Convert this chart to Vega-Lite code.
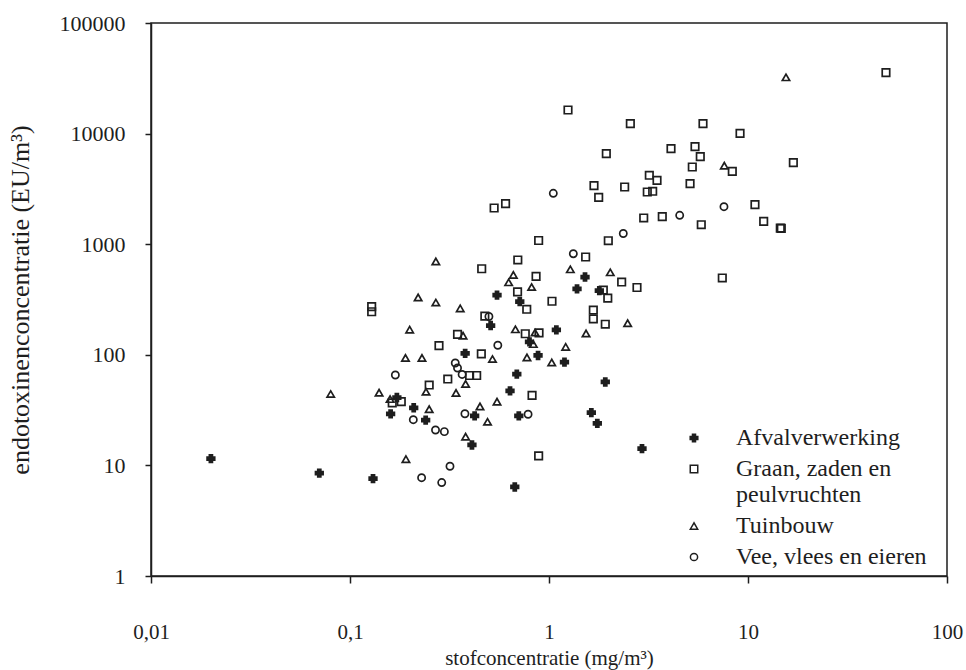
{
  "$schema": "https://vega.github.io/schema/vega-lite/v6.json",
  "width": 796,
  "height": 553,
  "autosize": {"type": "none"},
  "padding": {"left": 151, "top": 23, "right": 19, "bottom": 94},
  "background": "white",
  "config": {
    "font": "Liberation Serif",
    "view": {"stroke": "#1e1e1e", "strokeWidth": 1.5},
    "axis": {
      "grid": false,
      "domainColor": "#1e1e1e",
      "domainWidth": 1.5,
      "tickColor": "#1e1e1e",
      "tickWidth": 1.5,
      "labelColor": "#1e1e1e",
      "titleColor": "#1e1e1e",
      "labelFont": "Liberation Serif",
      "titleFont": "Liberation Serif",
      "labelFontSize": 21,
      "titleFontSize": 21,
      "titleFontWeight": "normal"
    },
    "legend": {
      "labelFont": "Liberation Serif",
      "labelFontSize": 24,
      "labelColor": "#1e1e1e",
      "labelLimit": 0
    }
  },
  "data": {
    "values": [
      {"x": 0.0200, "y": 11.5, "c": "Afvalverwerking"},
      {"x": 0.0701, "y": 8.53, "c": "Afvalverwerking"},
      {"x": 0.1305, "y": 7.58, "c": "Afvalverwerking"},
      {"x": 0.160, "y": 29.2, "c": "Afvalverwerking"},
      {"x": 0.172, "y": 41.1, "c": "Afvalverwerking"},
      {"x": 0.209, "y": 33.2, "c": "Afvalverwerking"},
      {"x": 0.240, "y": 25.7, "c": "Afvalverwerking"},
      {"x": 0.379, "y": 103, "c": "Afvalverwerking"},
      {"x": 0.410, "y": 15.3, "c": "Afvalverwerking"},
      {"x": 0.423, "y": 28.0, "c": "Afvalverwerking"},
      {"x": 0.509, "y": 184, "c": "Afvalverwerking"},
      {"x": 0.548, "y": 347, "c": "Afvalverwerking"},
      {"x": 0.637, "y": 47.1, "c": "Afvalverwerking"},
      {"x": 0.673, "y": 6.38, "c": "Afvalverwerking"},
      {"x": 0.689, "y": 67.0, "c": "Afvalverwerking"},
      {"x": 0.705, "y": 28.0, "c": "Afvalverwerking"},
      {"x": 0.713, "y": 302, "c": "Afvalverwerking"},
      {"x": 0.798, "y": 131, "c": "Afvalverwerking"},
      {"x": 0.881, "y": 98.6, "c": "Afvalverwerking"},
      {"x": 1.089, "y": 168, "c": "Afvalverwerking"},
      {"x": 1.196, "y": 85.7, "c": "Afvalverwerking"},
      {"x": 1.383, "y": 394, "c": "Afvalverwerking"},
      {"x": 1.517, "y": 505, "c": "Afvalverwerking"},
      {"x": 1.790, "y": 380, "c": "Afvalverwerking"},
      {"x": 1.918, "y": 56.8, "c": "Afvalverwerking"},
      {"x": 1.632, "y": 30.0, "c": "Afvalverwerking"},
      {"x": 1.749, "y": 24.0, "c": "Afvalverwerking"},
      {"x": 2.933, "y": 14.2, "c": "Afvalverwerking"},

      {"x": 0.1285, "y": 273, "c": "Graan, zaden en peulvruchten"},
      {"x": 0.1285, "y": 245, "c": "Graan, zaden en peulvruchten"},
      {"x": 0.280, "y": 121, "c": "Graan, zaden en peulvruchten"},
      {"x": 0.310, "y": 60.4, "c": "Graan, zaden en peulvruchten"},
      {"x": 0.250, "y": 53.3, "c": "Graan, zaden en peulvruchten"},
      {"x": 0.181, "y": 37.7, "c": "Graan, zaden en peulvruchten"},
      {"x": 0.163, "y": 36.7, "c": "Graan, zaden en peulvruchten"},
      {"x": 0.347, "y": 153, "c": "Graan, zaden en peulvruchten"},
      {"x": 0.399, "y": 65.0, "c": "Graan, zaden en peulvruchten"},
      {"x": 0.433, "y": 65.0, "c": "Graan, zaden en peulvruchten"},
      {"x": 0.457, "y": 102, "c": "Graan, zaden en peulvruchten"},
      {"x": 0.476, "y": 224, "c": "Graan, zaden en peulvruchten"},
      {"x": 0.459, "y": 600, "c": "Graan, zaden en peulvruchten"},
      {"x": 0.530, "y": 2125, "c": "Graan, zaden en peulvruchten"},
      {"x": 0.605, "y": 2325, "c": "Graan, zaden en peulvruchten"},
      {"x": 0.697, "y": 720, "c": "Graan, zaden en peulvruchten"},
      {"x": 0.695, "y": 370, "c": "Graan, zaden en peulvruchten"},
      {"x": 0.773, "y": 258, "c": "Graan, zaden en peulvruchten"},
      {"x": 0.760, "y": 155, "c": "Graan, zaden en peulvruchten"},
      {"x": 0.822, "y": 42.9, "c": "Graan, zaden en peulvruchten"},
      {"x": 0.861, "y": 511, "c": "Graan, zaden en peulvruchten"},
      {"x": 0.891, "y": 158, "c": "Graan, zaden en peulvruchten"},
      {"x": 0.887, "y": 1080, "c": "Graan, zaden en peulvruchten"},
      {"x": 0.887, "y": 12.2, "c": "Graan, zaden en peulvruchten"},
      {"x": 1.035, "y": 305, "c": "Graan, zaden en peulvruchten"},
      {"x": 1.246, "y": 16350, "c": "Graan, zaden en peulvruchten"},
      {"x": 1.528, "y": 766, "c": "Graan, zaden en peulvruchten"},
      {"x": 1.670, "y": 254, "c": "Graan, zaden en peulvruchten"},
      {"x": 1.670, "y": 211, "c": "Graan, zaden en peulvruchten"},
      {"x": 1.777, "y": 2655, "c": "Graan, zaden en peulvruchten"},
      {"x": 1.683, "y": 3380, "c": "Graan, zaden en peulvruchten"},
      {"x": 1.875, "y": 385, "c": "Graan, zaden en peulvruchten"},
      {"x": 1.941, "y": 6580, "c": "Graan, zaden en peulvruchten"},
      {"x": 1.918, "y": 189, "c": "Graan, zaden en peulvruchten"},
      {"x": 1.974, "y": 326, "c": "Graan, zaden en peulvruchten"},
      {"x": 1.986, "y": 1075, "c": "Graan, zaden en peulvruchten"},
      {"x": 2.318, "y": 455, "c": "Graan, zaden en peulvruchten"},
      {"x": 2.400, "y": 3290, "c": "Graan, zaden en peulvruchten"},
      {"x": 2.563, "y": 12290, "c": "Graan, zaden en peulvruchten"},
      {"x": 2.768, "y": 406, "c": "Graan, zaden en peulvruchten"},
      {"x": 2.992, "y": 1726, "c": "Graan, zaden en peulvruchten"},
      {"x": 3.118, "y": 2965, "c": "Graan, zaden en peulvruchten"},
      {"x": 3.319, "y": 3010, "c": "Graan, zaden en peulvruchten"},
      {"x": 3.192, "y": 4200, "c": "Graan, zaden en peulvruchten"},
      {"x": 3.490, "y": 3782, "c": "Graan, zaden en peulvruchten"},
      {"x": 3.709, "y": 1773, "c": "Graan, zaden en peulvruchten"},
      {"x": 4.103, "y": 7300, "c": "Graan, zaden en peulvruchten"},
      {"x": 5.115, "y": 3523, "c": "Graan, zaden en peulvruchten"},
      {"x": 5.249, "y": 4990, "c": "Graan, zaden en peulvruchten"},
      {"x": 5.417, "y": 7615, "c": "Graan, zaden en peulvruchten"},
      {"x": 5.757, "y": 6180, "c": "Graan, zaden en peulvruchten"},
      {"x": 5.824, "y": 1500, "c": "Graan, zaden en peulvruchten"},
      {"x": 5.941, "y": 12290, "c": "Graan, zaden en peulvruchten"},
      {"x": 7.427, "y": 495, "c": "Graan, zaden en peulvruchten"},
      {"x": 8.339, "y": 4562, "c": "Graan, zaden en peulvruchten"},
      {"x": 9.120, "y": 10060, "c": "Graan, zaden en peulvruchten"},
      {"x": 10.84, "y": 2276, "c": "Graan, zaden en peulvruchten"},
      {"x": 11.99, "y": 1611, "c": "Graan, zaden en peulvruchten"},
      {"x": 14.53, "y": 1400, "c": "Graan, zaden en peulvruchten"},
      {"x": 14.70, "y": 1390, "c": "Graan, zaden en peulvruchten"},
      {"x": 16.90, "y": 5455, "c": "Graan, zaden en peulvruchten"},
      {"x": 49.35, "y": 35540, "c": "Graan, zaden en peulvruchten"},

      {"x": 0.0800, "y": 44.2, "c": "Tuinbouw"},
      {"x": 0.140, "y": 45.4, "c": "Tuinbouw"},
      {"x": 0.159, "y": 39.8, "c": "Tuinbouw"},
      {"x": 0.190, "y": 93.6, "c": "Tuinbouw"},
      {"x": 0.191, "y": 11.4, "c": "Tuinbouw"},
      {"x": 0.1995, "y": 169, "c": "Tuinbouw"},
      {"x": 0.220, "y": 330, "c": "Tuinbouw"},
      {"x": 0.230, "y": 93.6, "c": "Tuinbouw"},
      {"x": 0.241, "y": 46.3, "c": "Tuinbouw"},
      {"x": 0.250, "y": 32.2, "c": "Tuinbouw"},
      {"x": 0.270, "y": 698, "c": "Tuinbouw"},
      {"x": 0.270, "y": 297, "c": "Tuinbouw"},
      {"x": 0.341, "y": 45.2, "c": "Tuinbouw"},
      {"x": 0.358, "y": 263, "c": "Tuinbouw"},
      {"x": 0.370, "y": 149, "c": "Tuinbouw"},
      {"x": 0.381, "y": 54.5, "c": "Tuinbouw"},
      {"x": 0.381, "y": 18.2, "c": "Tuinbouw"},
      {"x": 0.450, "y": 34.1, "c": "Tuinbouw"},
      {"x": 0.491, "y": 24.8, "c": "Tuinbouw"},
      {"x": 0.520, "y": 91.6, "c": "Tuinbouw"},
      {"x": 0.548, "y": 37.7, "c": "Tuinbouw"},
      {"x": 0.627, "y": 452, "c": "Tuinbouw"},
      {"x": 0.662, "y": 527, "c": "Tuinbouw"},
      {"x": 0.678, "y": 170, "c": "Tuinbouw"},
      {"x": 0.775, "y": 94.6, "c": "Tuinbouw"},
      {"x": 0.818, "y": 410, "c": "Tuinbouw"},
      {"x": 0.834, "y": 125, "c": "Tuinbouw"},
      {"x": 0.851, "y": 159, "c": "Tuinbouw"},
      {"x": 1.032, "y": 85.2, "c": "Tuinbouw"},
      {"x": 1.213, "y": 118, "c": "Tuinbouw"},
      {"x": 1.280, "y": 593, "c": "Tuinbouw"},
      {"x": 1.535, "y": 156, "c": "Tuinbouw"},
      {"x": 2.032, "y": 557, "c": "Tuinbouw"},
      {"x": 2.485, "y": 193, "c": "Tuinbouw"},
      {"x": 7.602, "y": 5125, "c": "Tuinbouw"},
      {"x": 15.52, "y": 32290, "c": "Tuinbouw"},

      {"x": 0.169, "y": 65.7, "c": "Vee, vlees en eieren"},
      {"x": 0.208, "y": 25.9, "c": "Vee, vlees en eieren"},
      {"x": 0.229, "y": 7.74, "c": "Vee, vlees en eieren"},
      {"x": 0.269, "y": 20.9, "c": "Vee, vlees en eieren"},
      {"x": 0.298, "y": 20.2, "c": "Vee, vlees en eieren"},
      {"x": 0.289, "y": 7.00, "c": "Vee, vlees en eieren"},
      {"x": 0.318, "y": 9.82, "c": "Vee, vlees en eieren"},
      {"x": 0.338, "y": 84.3, "c": "Vee, vlees en eieren"},
      {"x": 0.347, "y": 76.0, "c": "Vee, vlees en eieren"},
      {"x": 0.366, "y": 66.4, "c": "Vee, vlees en eieren"},
      {"x": 0.378, "y": 29.3, "c": "Vee, vlees en eieren"},
      {"x": 0.499, "y": 222, "c": "Vee, vlees en eieren"},
      {"x": 0.553, "y": 122, "c": "Vee, vlees en eieren"},
      {"x": 0.785, "y": 29.0, "c": "Vee, vlees en eieren"},
      {"x": 1.051, "y": 2886, "c": "Vee, vlees en eieren"},
      {"x": 1.325, "y": 820, "c": "Vee, vlees en eieren"},
      {"x": 2.362, "y": 1250, "c": "Vee, vlees en eieren"},
      {"x": 4.537, "y": 1825, "c": "Vee, vlees en eieren"},
      {"x": 7.572, "y": 2183, "c": "Vee, vlees en eieren"}
    ]
  },
  "mark": {"type": "point", "color": "#1e1e1e", "strokeWidth": 1.7, "opacity": 1},
  "encoding": {
    "x": {
      "field": "x",
      "type": "quantitative",
      "scale": {"type": "log", "domain": [0.01, 100], "nice": false},
      "axis": {
        "title": "stofconcentratie (mg/m³)",
        "values": [0.01, 0.1, 1, 10, 100],
        "labelExpr": "replace(toString(datum.value), '.', ',')",
        "tickSize": 7,
        "labelPadding": 38,
        "titlePadding": 5,
        "labelFlush": false,
        "labelOverlap": false
      }
    },
    "y": {
      "field": "y",
      "type": "quantitative",
      "scale": {"type": "log", "domain": [1, 100000], "nice": false},
      "axis": {
        "title": "endotoxinenconcentratie (EU/m³)",
        "values": [1, 10, 100, 1000, 10000, 100000],
        "format": "d",
        "tickSize": 6,
        "labelPadding": 20,
        "labelFontSize": 22,
        "titleFontSize": 26,
        "titlePadding": 26,
        "labelFlush": false,
        "labelOverlap": false
      }
    },
    "shape": {
      "field": "c",
      "type": "nominal",
      "scale": {
        "domain": ["Afvalverwerking", "Graan, zaden en peulvruchten", "Tuinbouw", "Vee, vlees en eieren"],
        "range": ["cross", "square", "triangle-up", "circle"]
      },
      "legend": {
        "title": null,
        "orient": "none",
        "legendX": 531,
        "legendY": 403,
        "padding": 0,
        "rowPadding": 7,
        "labelOffset": 30,
        "labelExpr": "datum.label == 'Graan, zaden en peulvruchten' ? ['Graan, zaden en', 'peulvruchten'] : datum.label"
      }
    },
    "fill": {
      "field": "c",
      "type": "nominal",
      "scale": {
        "domain": ["Afvalverwerking", "Graan, zaden en peulvruchten", "Tuinbouw", "Vee, vlees en eieren"],
        "range": ["#1e1e1e", "transparent", "transparent", "transparent"]
      }
    },
    "size": {
      "field": "c",
      "type": "nominal",
      "scale": {
        "domain": ["Afvalverwerking", "Graan, zaden en peulvruchten", "Tuinbouw", "Vee, vlees en eieren"],
        "range": [58, 52, 62, 36]
      }
    }
  }
}
